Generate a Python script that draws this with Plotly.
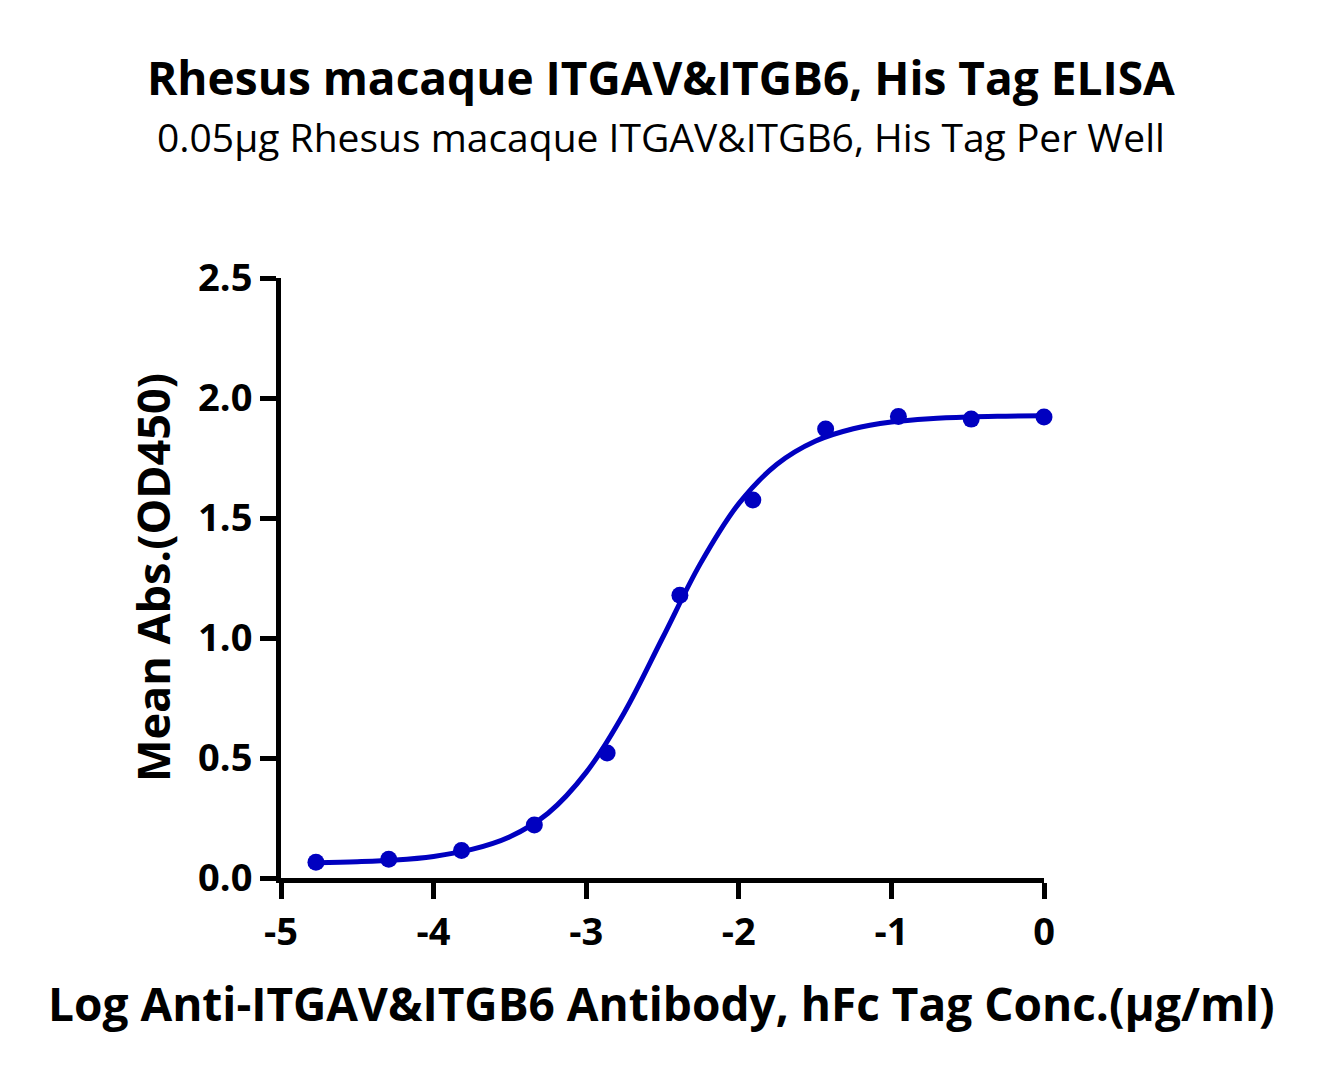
import plotly.graph_objects as go

# Measured data points (log concentration, mean absorbance)
log_conc = [-4.771, -4.294, -3.817, -3.340, -2.863, -2.386, -1.908, -1.431, -0.954, -0.477, 0.0]
mean_abs = [0.066, 0.078, 0.115, 0.221, 0.521, 1.178, 1.575, 1.871, 1.923, 1.912, 1.921]

# Fitted curve
curve_x = [-4.771, -4.5, -4.25, -4.0, -3.75, -3.5, -3.25, -3.0, -2.75, -2.5, -2.25,
           -2.0, -1.75, -1.5, -1.25, -1.0, -0.75, -0.5, -0.25, 0.0]
curve_y = [0.064, 0.068, 0.075, 0.090, 0.119, 0.172, 0.270, 0.440, 0.690, 1.000, 1.312,
           1.560, 1.724, 1.820, 1.872, 1.900, 1.914, 1.921, 1.924, 1.926]

x_ticks = [-5, -4, -3, -2, -1, 0]
y_ticks = [0.0, 0.5, 1.0, 1.5, 2.0, 2.5]

title = "Rhesus macaque ITGAV&ITGB6, His Tag ELISA"
subtitle = "0.05µg Rhesus macaque ITGAV&ITGB6, His Tag Per Well"
x_title = "Log Anti-ITGAV&ITGB6 Antibody, hFc Tag Conc.(µg/ml)"
y_title = "Mean Abs.(OD450)"

FONT = "Open Sans"
BLUE = "#0000C0"

W, H = 1306, 1061
L, R, T, B = 273, 270, 270, 191
PW, PH = W - L - R, H - T - B


def px(xp):
    return (xp - L) / PW


def py(yp):
    return (H - B - yp) / PH


fig = go.Figure()
fig.add_trace(go.Scatter(x=curve_x, y=curve_y, mode="lines",
                         line=dict(color=BLUE, width=5, shape="spline"),
                         hoverinfo="skip", cliponaxis=False, showlegend=False))
fig.add_trace(go.Scatter(x=log_conc, y=mean_abs, mode="markers",
                         marker=dict(color=BLUE, size=17),
                         cliponaxis=False, showlegend=False))

tickfont = dict(family=FONT, size=38, color="black", weight="bold")
fig.update_layout(
    width=W, height=H,
    margin=dict(l=L, r=R, t=T, b=B),
    paper_bgcolor="white", plot_bgcolor="white",
    font=dict(family=FONT, color="black"),
    xaxis=dict(range=[-5, 0], tickvals=x_ticks, ticktext=[str(v) for v in x_ticks],
               showgrid=False, zeroline=False, showline=True, linecolor="black", linewidth=5,
               ticks="outside", ticklen=16, tickwidth=5, tickcolor="black",
               tickfont=tickfont),
    yaxis=dict(range=[0, 2.5], tickvals=y_ticks, ticktext=[f"{v:.1f}" for v in y_ticks],
               showgrid=False, zeroline=False, showline=True, linecolor="black", linewidth=5,
               ticks="outside", ticklen=16, tickwidth=5, tickcolor="black",
               tickfont=tickfont),
    annotations=[
        dict(text=title, x=px(653), y=py(69), xref="paper", yref="paper", showarrow=False,
             xanchor="center", yanchor="middle",
             font=dict(family=FONT, size=46, color="black", weight="bold")),
        dict(text=subtitle, x=px(653), y=py(129), xref="paper", yref="paper", showarrow=False,
             xanchor="center", yanchor="middle",
             font=dict(family=FONT, size=39, color="black")),
        dict(text=x_title, x=px(653), y=py(995), xref="paper", yref="paper", showarrow=False,
             xanchor="center", yanchor="middle",
             font=dict(family=FONT, size=46, color="black", weight="bold")),
        dict(text=y_title, x=px(144), y=py(570), xref="paper", yref="paper", showarrow=False,
             xanchor="center", yanchor="middle", textangle=-90,
             font=dict(family=FONT, size=45, color="black", weight="bold")),
    ],
)

fig.write_html("out.html")
